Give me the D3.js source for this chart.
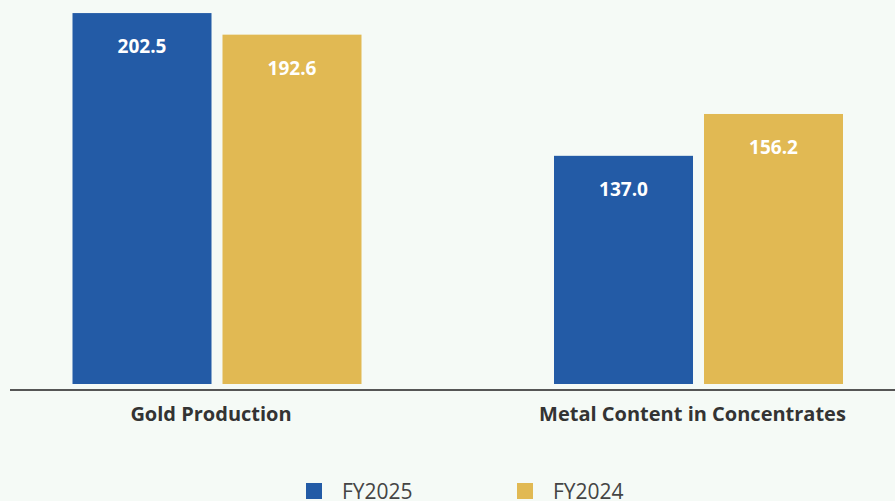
<!DOCTYPE html>
<html><head><meta charset="utf-8">
<script src="https://cdn.jsdelivr.net/npm/d3@7"></script>
<style>
html,body{margin:0;padding:0;background:#f5faf6;}
svg{display:block;}
</style></head>
<body>
<svg id="chart" width="895" height="501"></svg>
<script>
const categories = ["Gold Production", "Metal Content in Concentrates"];
const seriesNames = ["FY2025", "FY2024"];
const fy2025 = [202.5, 137.0];
const fy2024 = [192.6, 156.2];
const seriesColors = ["#235ba6", "#e1b953"];

const W = 895, H = 501;
const svg = d3.select("#chart");
svg.append("rect").attr("width", W).attr("height", H).attr("fill", "#f5faf6");

const barBottom = 384;
const x0 = d3.scaleBand().domain(categories).range([-23.75, 939.25]).padding(0);
const inner = 289;
const x1 = d3.scaleBand().domain(seriesNames)
  .range([x0.bandwidth()/2 - inner/2, x0.bandwidth()/2 + inner/2])
  .paddingInner(0.0733);
const y = d3.scaleLinear().domain([32.3, 208.5]).range([barBottom, 0]);
const color = d3.scaleOrdinal().domain(seriesNames).range(seriesColors);

const rows = categories.map((c, i) => ({cat: c, vals: [
  {s: "FY2025", v: fy2025[i]}, {s: "FY2024", v: fy2024[i]}
]}));

const g = svg.append("g").selectAll("g").data(rows).join("g")
  .attr("transform", d => `translate(${x0(d.cat)},0)`);

g.selectAll("rect").data(d => d.vals).join("rect")
  .attr("x", d => x1(d.s))
  .attr("width", x1.bandwidth())
  .attr("y", d => y(d.v))
  .attr("height", d => barBottom - y(d.v))
  .attr("fill", d => color(d.s));

g.selectAll("text").data(d => d.vals).join("text")
  .attr("x", d => x1(d.s) + x1.bandwidth()/2)
  .attr("y", d => y(d.v) + 40)
  .attr("text-anchor", "middle")
  .attr("fill", "#ffffff")
  .attr("font-family", "'Open Sans', sans-serif")
  .attr("font-weight", "bold")
  .attr("font-size", "19px")
  .text(d => d.v.toFixed(1));

// baseline
svg.append("line").attr("x1", 10).attr("x2", W).attr("y1", 390).attr("y2", 390)
  .attr("stroke", "#555").attr("stroke-width", 2);

// category axis (labels only)
const axis = svg.append("g").attr("transform", "translate(-6,390)")
  .call(d3.axisBottom(x0).tickSize(0).tickPadding(13));
axis.select(".domain").remove();
axis.selectAll("text")
  .attr("y", 31).attr("dy", 0)
  .attr("fill", "#333")
  .attr("font-family", "'Open Sans', sans-serif")
  .attr("font-weight", "bold")
  .attr("font-size", "20px");

// legend
const legX = [306, 517];
const leg = svg.append("g").selectAll("g").data(seriesNames).join("g")
  .attr("transform", (d, i) => `translate(${legX[i]},483)`);
leg.append("rect").attr("width", 16).attr("height", 16).attr("fill", d => color(d));
leg.append("text").attr("x", 36).attr("y", 16)
  .attr("fill", "#444")
  .attr("font-family", "'Open Sans', sans-serif")
  .attr("font-size", "21px")
  .text(d => d);
</script>
</body></html>
